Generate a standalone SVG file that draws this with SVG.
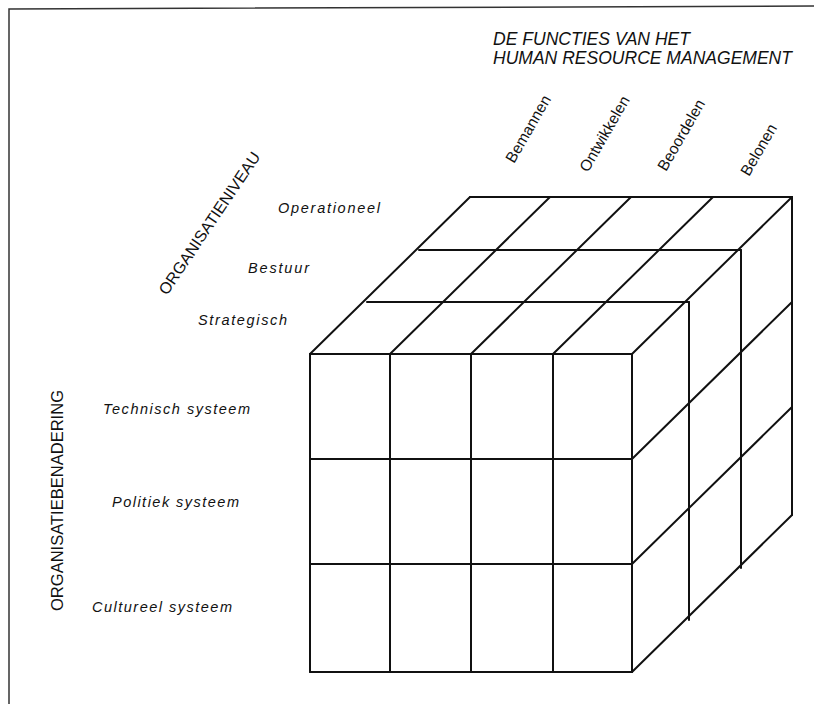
<svg xmlns="http://www.w3.org/2000/svg" width="814" height="704" viewBox="0 0 814 704">
<style>
.ln{fill:none;stroke:#111;stroke-width:2;stroke-linecap:round;stroke-linejoin:round}
.fr{fill:none;stroke:#333;stroke-width:1.5}
.it{font-family:"Liberation Sans",Arial,sans-serif;font-style:italic;font-size:14.5px;fill:#111}
.hd{font-family:"Liberation Sans",Arial,sans-serif;font-style:italic;font-size:17.5px;fill:#111}
.ax{font-family:"Liberation Sans",Arial,sans-serif;font-size:16px;fill:#111}
.col{font-family:"Liberation Sans",Arial,sans-serif;font-size:15.5px;fill:#111}
</style>
<rect width="814" height="704" fill="#fff"/>
<g id="frame">
<path class="fr" d="M9,704 L9,9 L814,6"/>
</g>
<g id="title">
<text class="hd" x="493" y="45" textLength="197" lengthAdjust="spacingAndGlyphs">DE FUNCTIES VAN HET</text>
<text class="hd" x="493" y="64" textLength="299" lengthAdjust="spacingAndGlyphs">HUMAN RESOURCE MANAGEMENT</text>
</g>
<g id="functions">
<text class="col" transform="translate(514,164) rotate(-60)">Bemannen</text>
<text class="col" transform="translate(588,173) rotate(-60)">Ontwikkelen</text>
<text class="col" transform="translate(666,172) rotate(-60)">Beoordelen</text>
<text class="col" transform="translate(749,177) rotate(-60)">Belonen</text>
</g>
<g id="niveau">
<text class="ax" transform="translate(167,296) rotate(-56)" textLength="168" lengthAdjust="spacingAndGlyphs">ORGANISATIENIVEAU</text>
<text class="it" x="278" y="213" textLength="102" lengthAdjust="spacing">Operationeel</text>
<text class="it" x="248" y="273" textLength="61" lengthAdjust="spacing">Bestuur</text>
<text class="it" x="198" y="325" textLength="89" lengthAdjust="spacing">Strategisch</text>
</g>
<g id="benadering">
<text class="ax" transform="translate(63,611) rotate(-90)" textLength="221" lengthAdjust="spacingAndGlyphs">ORGANISATIEBENADERING</text>
<text class="it" x="103" y="414" textLength="147" lengthAdjust="spacing">Technisch systeem</text>
<text class="it" x="112" y="507" textLength="127" lengthAdjust="spacing">Politiek systeem</text>
<text class="it" x="92" y="612" textLength="140" lengthAdjust="spacing">Cultureel systeem</text>
</g>
<g id="cube">
<g id="top-face">
<path class="ln" d="M310,354 L632,354 M367,302 L689,302 M419,250 L741,250 M470,197 L792,197"/>
<path class="ln" d="M310,354 L470,197 M390,354 L550,197 M471,354 L631,197 M553,354 L713,197 M632,354 L792,197"/>
</g>
<g id="right-face">
<path class="ln" d="M689,302 L689,620 M741,250 L741,568 M792,197 L792,515"/>
<path class="ln" d="M632,459 L792,302 M632,564 L792,407 M632,672 L792,515"/>
</g>
<g id="front-face">
<path class="ln" d="M310,354 L632,354 M310,459 L632,459 M310,564 L632,564 M310,672 L632,672"/>
<path class="ln" d="M310,354 L310,672 M390,354 L390,672 M471,354 L471,672 M553,354 L553,672 M632,354 L632,672"/>
</g>
</g>
</svg>
